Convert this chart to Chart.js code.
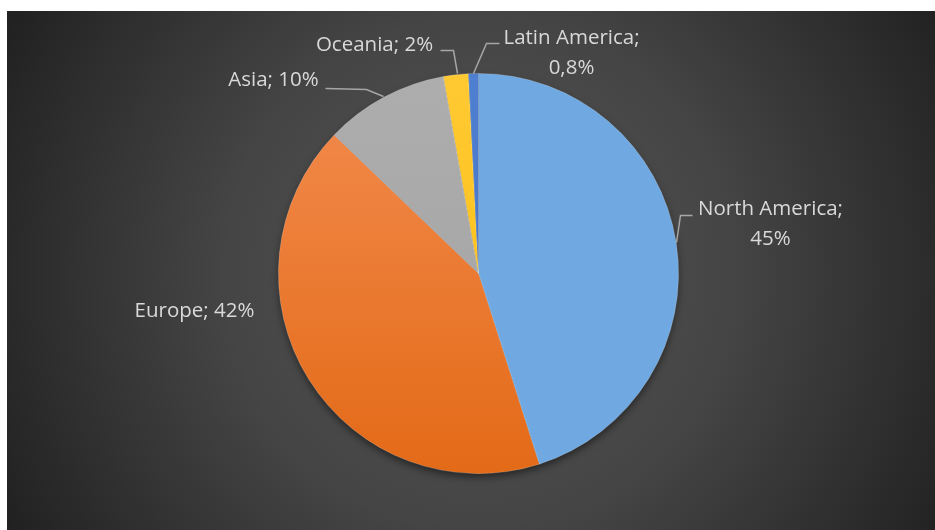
<!DOCTYPE html>
<html>
<head>
<meta charset="utf-8">
<script src="https://cdn.jsdelivr.net/npm/chart.js@4/dist/chart.umd.min.js"></script>
<style>
    html, body { margin: 0; padding: 0; background: #ffffff; }
    #wrap { width: 935px; height: 530px; position: relative; }
</style>
</head>
<body>
<div id="wrap"><canvas id="regions-pie" width="935" height="530"></canvas></div>
<script>
// Share by region (%)
const regions = ['North America', 'Europe', 'Asia', 'Oceania', 'Latin America'];
const shares = [45, 42, 10, 2, 0.8];
const shareLabels = ['45%', '42%', '10%', '2%', '0,8%'];

// slice fills: light at the top, darker at the bottom
const sliceTop = ['#70a9e2', '#f38c4f', '#adadad', '#ffc933', '#4f7fd0'];
const sliceBottom = ['#4a8dcf', '#e36a17', '#a3a3a3', '#fbbd08', '#4170c2'];

// label placement, relative to the pie centre (dx, dy of the first text line) and leader path
const labelLayout = [
    { dx: 292, dy: -64, leader: [[198, -31], [202, -58], [214, -58]] },
    { dx: -284, dy: 38, leader: null },
    { dx: -205, dy: -193, leader: [[-153, -185], [-112, -184], [-95, -177]] },
    { dx: -104, dy: -228, leader: [[-38, -223], [-25, -223], [-21, -200]] },
    { dx: 93, dy: -235, leader: [[21, -230], [8, -230], [-5, -200]] }
];
// which labels wrap the value onto a second line
const wrapValue = [true, false, false, false, true];

const panelBackground = {
    id: 'panelBackground',
    beforeDraw(chart) {
        const { ctx, width, height } = chart;
        const meta = chart.getDatasetMeta(0);
        const cx = meta.data[0].x, cy = meta.data[0].y;
        ctx.save();
        ctx.fillStyle = '#ffffff';
        ctx.fillRect(0, 0, width, height);
        const g = ctx.createRadialGradient(cx, cy, 0, cx, cy, 560);
        g.addColorStop(0, '#575757');
        g.addColorStop(0.45, '#454545');
        g.addColorStop(1, '#1e1e1e');
        ctx.fillStyle = g;
        ctx.fillRect(7, 11, width - 7, height - 11);
        ctx.restore();
    },
    beforeDatasetsDraw(chart) {
        // soft drop shadow under the whole pie
        const { ctx } = chart;
        const arc = chart.getDatasetMeta(0).data[0];
        ctx.save();
        ctx.shadowColor = 'rgba(0,0,0,0.55)';
        ctx.shadowBlur = 9;
        ctx.shadowOffsetY = 4;
        ctx.fillStyle = '#3a3a3a';
        ctx.beginPath();
        ctx.arc(arc.x, arc.y, arc.outerRadius - 1, 0, Math.PI * 2);
        ctx.fill();
        ctx.restore();
    }
};

const sliceLabels = {
    id: 'sliceLabels',
    afterDatasetsDraw(chart) {
        const { ctx } = chart;
        const arc0 = chart.getDatasetMeta(0).data[0];
        const cx = arc0.x, cy = arc0.y;
        ctx.save();
        ctx.font = '20.5px "Open Sans", sans-serif';
        ctx.fillStyle = '#d9d9d9';
        ctx.textAlign = 'center';
        ctx.textBaseline = 'middle';
        ctx.strokeStyle = '#a6a6a6';
        ctx.lineWidth = 1.5;
        labelLayout.forEach((l, idx) => {
            if (l.leader) {
                ctx.beginPath();
                l.leader.forEach(([x, y], i) => {
                    if (i === 0) ctx.moveTo(cx + x, cy + y);
                    else ctx.lineTo(cx + x, cy + y);
                });
                ctx.stroke();
            }
            const lines = wrapValue[idx]
                ? [regions[idx] + ';', shareLabels[idx]]
                : [regions[idx] + '; ' + shareLabels[idx]];
            lines.forEach((t, i) => {
                ctx.fillText(t, cx + l.dx, cy + l.dy + i * 30);
            });
        });
        ctx.restore();
    }
};

function sliceFill(context) {
    const chart = context.chart;
    const arc = chart.getDatasetMeta(0).data[0];
    if (!arc || !arc.outerRadius) return sliceTop[context.dataIndex];
    const g = chart.ctx.createLinearGradient(0, arc.y - arc.outerRadius, 0, arc.y + arc.outerRadius);
    g.addColorStop(0, sliceTop[context.dataIndex]);
    g.addColorStop(1, sliceBottom[context.dataIndex]);
    return g;
}

new Chart(document.getElementById('regions-pie'), {
    type: 'pie',
    data: {
        labels: regions,
        datasets: [{
            data: shares,
            backgroundColor: sliceFill,
            borderColor: 'rgba(255,255,255,0.25)',
            borderWidth: 0.75
        }]
    },
    options: {
        responsive: false,
        animation: false,
        layout: { padding: { top: 73, bottom: 56, left: 278, right: 256 } },
        plugins: {
            legend: { display: false },
            tooltip: { enabled: false }
        }
    },
    plugins: [panelBackground, sliceLabels]
});
</script>
</body>
</html>
